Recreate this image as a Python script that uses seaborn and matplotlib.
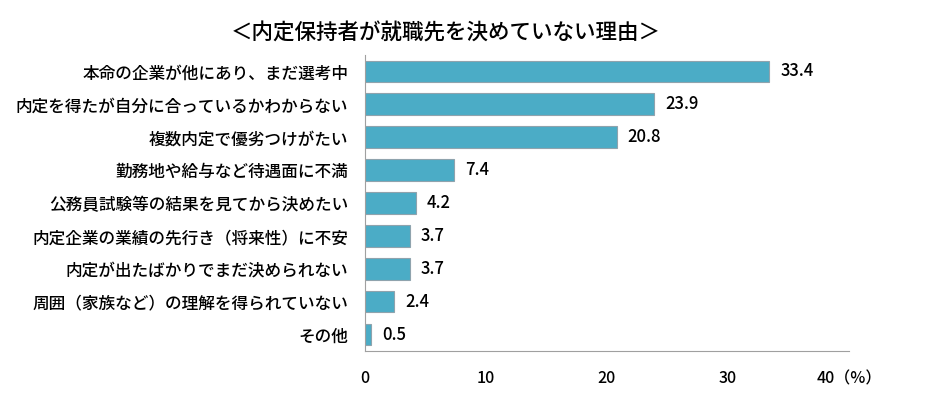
import numpy as np
import pandas as pd
import seaborn as sns
import matplotlib.pyplot as plt
from matplotlib.ticker import FixedLocator

reasons = [
    '本命の企業が他にあり、まだ選考中',
    '内定を得たが自分に合っているかわからない',
    '複数内定で優劣つけがたい',
    '勤務地や給与など待遇面に不満',
    '公務員試験等の結果を見てから決めたい',
    '内定企業の業績の先行き（将来性）に不安',
    '内定が出たばかりでまだ決められない',
    '周囲（家族など）の理解を得られていない',
    'その他',
]
values = [33.4, 23.9, 20.8, 7.4, 4.2, 3.7, 3.7, 2.4, 0.5]
xticks = [0, 10, 20, 30, 40]
xtick_labels = ['0', '10', '20', '30', '40（%）']

df = pd.DataFrame({'理由': reasons, '割合': values})

sns.set_style('white')
plt.rcParams['font.family'] = ['Noto Sans CJK JP', 'DejaVu Sans']
plt.rcParams['text.color'] = 'black'
plt.rcParams['xtick.color'] = 'black'
plt.rcParams['ytick.color'] = 'black'

fig = plt.figure(figsize=(9.38, 3.93), dpi=100)
ax = fig.add_axes([0.389, 0.107, 0.516, 0.753])

sns.barplot(data=df, x='割合', y='理由', orient='h', color='#4BACC6',
            saturation=1, edgecolor='#8FA3AD', linewidth=0.8, width=0.66, ax=ax)

ax.bar_label(ax.containers[0], labels=[f'{v:.1f}' for v in values],
             padding=8, fontsize=12, fontweight='medium')

ax.set_xlim(0, 40)
ax.set_ylim(len(reasons) - 0.5, -0.5)
ax.set_xticks(xticks)
ax.set_xticklabels(xtick_labels, fontsize=11.5, fontweight='medium')
ax.tick_params(axis='x', direction='in', length=4, color='#A0A0A0', pad=14)
ax.tick_params(axis='y', which='major', length=0, labelsize=12, pad=12)
for lab in ax.get_yticklabels():
    lab.set_fontweight('medium')
ax.yaxis.set_minor_locator(FixedLocator(np.arange(-0.5, len(reasons), 1)))
ax.tick_params(axis='y', which='minor', direction='out', length=4, color='#A0A0A0')
ax.set_xlabel('')
ax.set_ylabel('')

for side in ['top', 'right']:
    ax.spines[side].set_visible(False)
for side in ['left', 'bottom']:
    ax.spines[side].set_color('#A0A0A0')
    ax.spines[side].set_linewidth(0.8)

fig.text(0.475, 0.915, '＜内定保持者が就職先を決めていない理由＞', ha='center',
         va='center', fontsize=15.5, fontweight='medium')

fig.savefig('out.png', dpi=100)
